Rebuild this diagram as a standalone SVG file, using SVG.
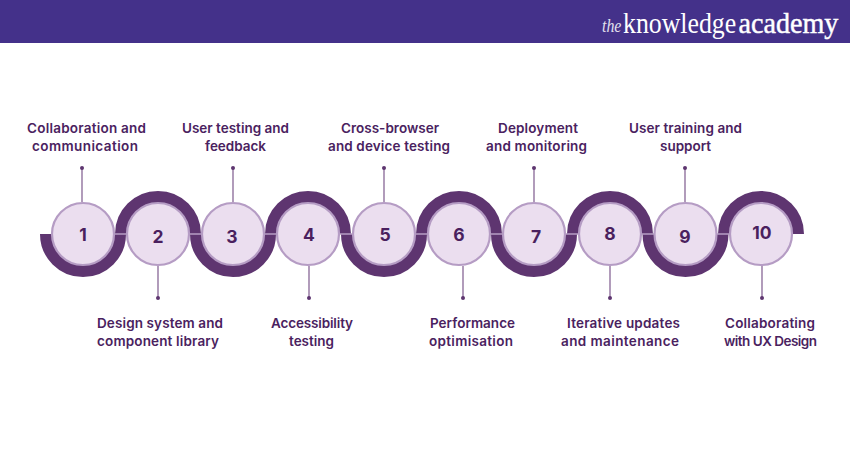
<svg xmlns="http://www.w3.org/2000/svg" width="850" height="450" viewBox="0 0 850 450">
<style>
text{font-family:"Inter","Liberation Sans",sans-serif}
.lb{font-size:13.5px;font-weight:600;fill:#4a2260;text-anchor:middle}
.num{font-size:17.5px;font-weight:700;fill:#4a1f5e;text-anchor:middle}
.arc{fill:none;stroke:#5e3570;stroke-width:12}
.lk{stroke:#b79dc3;stroke-width:1.5;fill:none}
.ln{stroke:#7e5a8e;stroke-width:1.2;fill:none}
.dot{fill:#5e3570}
.c{fill:#ebdeef;stroke:#b59cc4;stroke-width:2.2}
.logo{font-family:"Liberation Serif",serif;fill:#fff}
</style>
<g id="header"><rect width="850" height="43" fill="#44318a"/>
<text class="logo" transform="translate(602 32) scale(.88 1)" font-size="18" font-style="italic" opacity=".85">the</text>
<text class="logo" transform="translate(623 33) scale(.89 1)" font-size="29">knowledge</text>
<text class="logo" transform="translate(738.5 33) scale(.97 1)" font-size="29" stroke="#fff" stroke-width=".45">academy</text></g>
<g id="connectors">
<path class="arc" d="M46 234A37 37 0 0 0 120 234M121 234A37 37 0 0 1 195 234M196 234A37 37 0 0 0 270 234M271 234A37 37 0 0 1 345 234M347 234A37 37 0 0 0 421 234M422 234A37 37 0 0 1 496 234M497 234A37 37 0 0 0 571 234M573 234A37 37 0 0 1 647 234M648.5 234A37 37 0 0 0 722.5 234M724 234A37 37 0 0 1 798 234"/>
<path class="lk" d="M114 234H128M189 234H203M264 234H278M339 234H353M415 234H428M490 234H503M565 234H579M641 234H655M716 234H730"/>
<g class="ln">
<path d="M82 168V202M233 168V202M384 168V202M534 168V202M685 168V202M158 266V298M309 266V298M463 266V298M610 266V298M762 266V298"/>
</g>
<g class="dot">
<circle cx="82" cy="168" r="2"/><circle cx="233" cy="168" r="2"/><circle cx="384" cy="168" r="2"/><circle cx="534" cy="168" r="2"/><circle cx="685" cy="168" r="2"/>
<circle cx="158" cy="298" r="2"/><circle cx="309" cy="298" r="2"/><circle cx="463" cy="298" r="2"/><circle cx="610" cy="298" r="2"/><circle cx="762" cy="298" r="2"/>
</g>
</g>
<g id="n1"><circle class="c" cx="83" cy="234" r="31"/><text class="num" x="83" y="241">1</text><text class="lb" x="86.5" y="133" textLength="119">Collaboration and</text><text class="lb" x="85" y="151" textLength="106">communication</text></g>
<g id="n2"><circle class="c" cx="158" cy="234" r="31"/><text class="num" x="158" y="243">2</text><text class="lb" x="160" y="328" textLength="126">Design system and</text><text class="lb" x="158" y="346" textLength="122">component library</text></g>
<g id="n3"><circle class="c" cx="233" cy="234" r="31"/><text class="num" x="232" y="243">3</text><text class="lb" x="235.5" y="133" textLength="107">User testing and</text><text class="lb" x="235.5" y="151" textLength="61">feedback</text></g>
<g id="n4"><circle class="c" cx="308" cy="234" r="31"/><text class="num" x="309" y="241">4</text><text class="lb" x="312" y="328" textLength="82">Accessibility</text><text class="lb" x="311.5" y="346" textLength="45">testing</text></g>
<g id="n5"><circle class="c" cx="384" cy="234" r="31"/><text class="num" x="385" y="241">5</text><text class="lb" x="390" y="133" textLength="98">Cross-browser</text><text class="lb" x="389" y="151" textLength="122">and device testing</text></g>
<g id="n6"><circle class="c" cx="459" cy="234" r="31"/><text class="num" x="459" y="241">6</text><text class="lb" x="472.5" y="328" textLength="85">Performance</text><text class="lb" x="471" y="346" textLength="84">optimisation</text></g>
<g id="n7"><circle class="c" cx="534" cy="234" r="31"/><text class="num" x="536" y="243">7</text><text class="lb" x="538" y="133" textLength="80">Deployment</text><text class="lb" x="536.5" y="151" textLength="101">and monitoring</text></g>
<g id="n8"><circle class="c" cx="610" cy="234" r="31"/><text class="num" x="610" y="240">8</text><text class="lb" x="623.5" y="328" textLength="113">Iterative updates</text><text class="lb" x="620" y="346" textLength="118">and maintenance</text></g>
<g id="n9"><circle class="c" cx="685.5" cy="234" r="31"/><text class="num" x="685" y="243">9</text><text class="lb" x="685.5" y="133" textLength="113">User training and</text><text class="lb" x="685.5" y="151" textLength="51">support</text></g>
<g id="n10"><circle class="c" cx="761" cy="234" r="31"/><text class="num" x="762" y="239">10</text><text class="lb" x="770" y="328" textLength="90">Collaborating</text><text class="lb" x="770.5" y="346" textLength="93">with UX Design</text></g>
</svg>
